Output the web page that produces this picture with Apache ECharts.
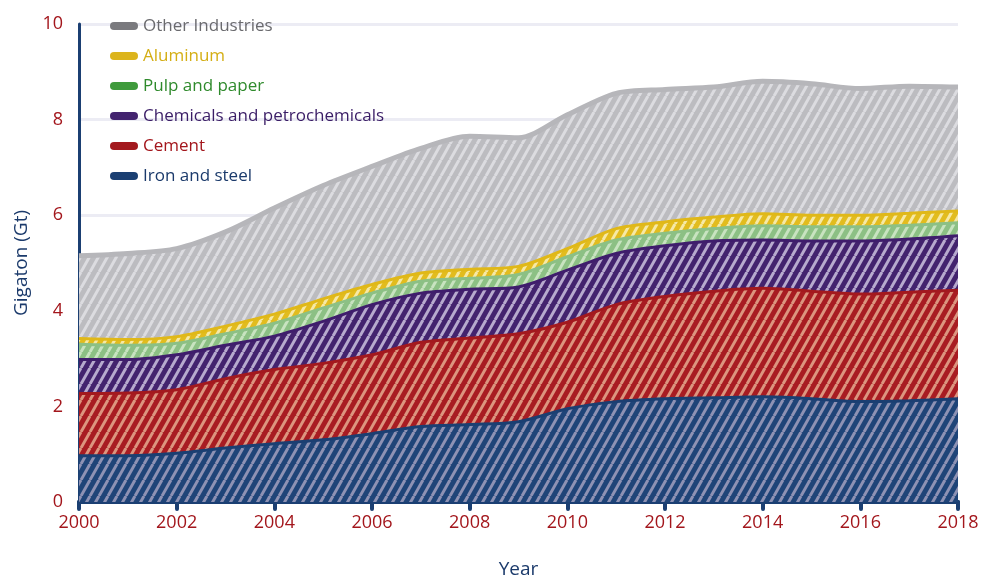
<!DOCTYPE html>
<html>
<head>
<meta charset="utf-8">
<script src="https://cdn.jsdelivr.net/npm/echarts@6/dist/echarts.min.js"></script>
<style>
  html, body { margin: 0; padding: 0; background: #fff; }
  #main { width: 1000px; height: 588px; }
</style>
</head>
<body>
<div id="main"></div>
<script>
// 年份
var years = ['2000','2001','2002','2003','2004','2005','2006','2007','2008','2009',
             '2010','2011','2012','2013','2014','2015','2016','2017','2018'];
// 各行业排放量 (Gt)，读图估计
var ironSteel = [0.97,0.97,1.02,1.13,1.22,1.30,1.43,1.58,1.62,1.68,1.95,2.10,2.16,2.18,2.20,2.16,2.10,2.12,2.16];
var cement    = [1.30,1.31,1.33,1.45,1.55,1.60,1.65,1.76,1.81,1.84,1.81,2.03,2.14,2.23,2.27,2.25,2.25,2.27,2.27];
var chemicals = [0.71,0.70,0.73,0.70,0.70,0.88,1.05,1.03,1.02,0.98,1.09,1.07,1.06,1.05,1.01,1.05,1.11,1.11,1.14];
var pulpPaper = [0.32,0.30,0.24,0.24,0.27,0.28,0.24,0.25,0.23,0.26,0.28,0.28,0.26,0.26,0.30,0.30,0.30,0.29,0.27];
var aluminum  = [0.12,0.12,0.14,0.16,0.19,0.19,0.18,0.17,0.19,0.17,0.17,0.24,0.24,0.24,0.25,0.24,0.24,0.25,0.25];
var otherInd  = [1.73,1.80,1.84,1.97,2.22,2.37,2.47,2.61,2.78,2.69,2.80,2.83,2.77,2.72,2.77,2.75,2.65,2.66,2.59];
var yTicks = [0, 2, 4, 6, 8, 10];

var FONT = 'Open Sans';

// 斜线填充图案
function hatch(base, stripe) {
    var w = 9, h = 16;
    var c = document.createElement('canvas');
    c.width = w; c.height = h;
    var g = c.getContext('2d');
    g.fillStyle = base;
    g.fillRect(0, 0, w, h);
    g.strokeStyle = stripe;
    g.lineWidth = 3;
    [-w, 0, w].forEach(function (o) {
        g.beginPath();
        g.moveTo(o, h);
        g.lineTo(o + w, 0);
        g.stroke();
    });
    return { image: c, repeat: 'repeat' };
}

function mkSeries(name, data, line, base, stripe, lw) {
    return {
        name: name,
        type: 'line',
        stack: 'total',
        smooth: 0.3,
        showSymbol: false,
        data: data,
        color: line,
        lineStyle: { color: line, width: lw || 3 },
        areaStyle: { color: hatch(base, stripe), opacity: 1 },
        emphasis: { disabled: true }
    };
}

var capsule = 'path://M4,0 L24,0 A4,4 0 0 1 24,8 L4,8 A4,4 0 0 1 4,0 Z';
function legendItem(name, icon, text) {
    return { name: name, icon: capsule, itemStyle: { color: icon }, textStyle: { color: text } };
}

var myChart = echarts.init(document.getElementById('main'));
var option = {
    backgroundColor: '#fff',
    animation: false,
    grid: { left: 79, right: 42, top: 24, bottom: 86 },
    legend: {
        orient: 'vertical',
        left: 105,
        top: 12,
        itemWidth: 28,
        itemHeight: 8,
        itemGap: 12,
        textStyle: { fontFamily: FONT, fontSize: 17, lineHeight: 18 },
        data: [
            legendItem('Other Industries', '#7a7a7e', '#6a6a6e'),
            legendItem('Aluminum', '#dcb41c', '#d4ae14'),
            legendItem('Pulp and paper', '#3f9a3c', '#2f8a2c'),
            legendItem('Chemicals and petrochemicals', '#43246f', '#3a1d66'),
            legendItem('Cement', '#a3191e', '#a3161c'),
            legendItem('Iron and steel', '#1b3f72', '#1b3a6b')
        ]
    },
    xAxis: {
        type: 'category',
        data: years,
        boundaryGap: false,
        name: 'Year',
        nameLocation: 'middle',
        nameGap: 58,
        nameTextStyle: { color: '#1b3a6b', fontFamily: FONT, fontSize: 19 },
        axisLine: { lineStyle: { color: '#1b3f72', width: 4, cap: 'round' } },
        axisTick: { interval: 1, length: 7, lineStyle: { color: '#1b3f72', width: 4, cap: 'round' } },
        axisLabel: { interval: 1, color: '#a3161c', fontFamily: FONT, fontSize: 18, margin: 12 },
        splitLine: { show: false }
    },
    yAxis: {
        type: 'value',
        min: yTicks[0],
        max: yTicks[yTicks.length - 1],
        interval: 2,
        name: 'Gigaton (Gt)',
        nameLocation: 'middle',
        nameGap: 44,
        nameTextStyle: { color: '#1b3a6b', fontFamily: FONT, fontSize: 19 },
        axisLine: { show: true, lineStyle: { color: '#1b3f72', width: 3 } },
        axisTick: { show: false },
        axisLabel: { color: '#a3161c', fontFamily: FONT, fontSize: 18, margin: 16 },
        splitLine: { lineStyle: { color: '#ececf4', width: 3 } }
    },
    series: [
        mkSeries('Iron and steel', ironSteel, '#1b3f72', '#1f4478', '#8e92b4'),
        mkSeries('Cement', cement, '#a3191e', '#a81c22', '#dc957f'),
        mkSeries('Chemicals and petrochemicals', chemicals, '#3f1d6c', '#43236e', '#b7aace'),
        mkSeries('Pulp and paper', pulpPaper, '#8cc085', '#8cc084', '#c8e3c0'),
        mkSeries('Aluminum', aluminum, '#e0b818', '#e2bc1e', '#f6e9a6'),
        mkSeries('Other Industries', otherInd, '#b6b6ba', '#bcbcc0', '#dcdce0', 5)
    ]
};
myChart.setOption(option);
</script>
</body>
</html>
